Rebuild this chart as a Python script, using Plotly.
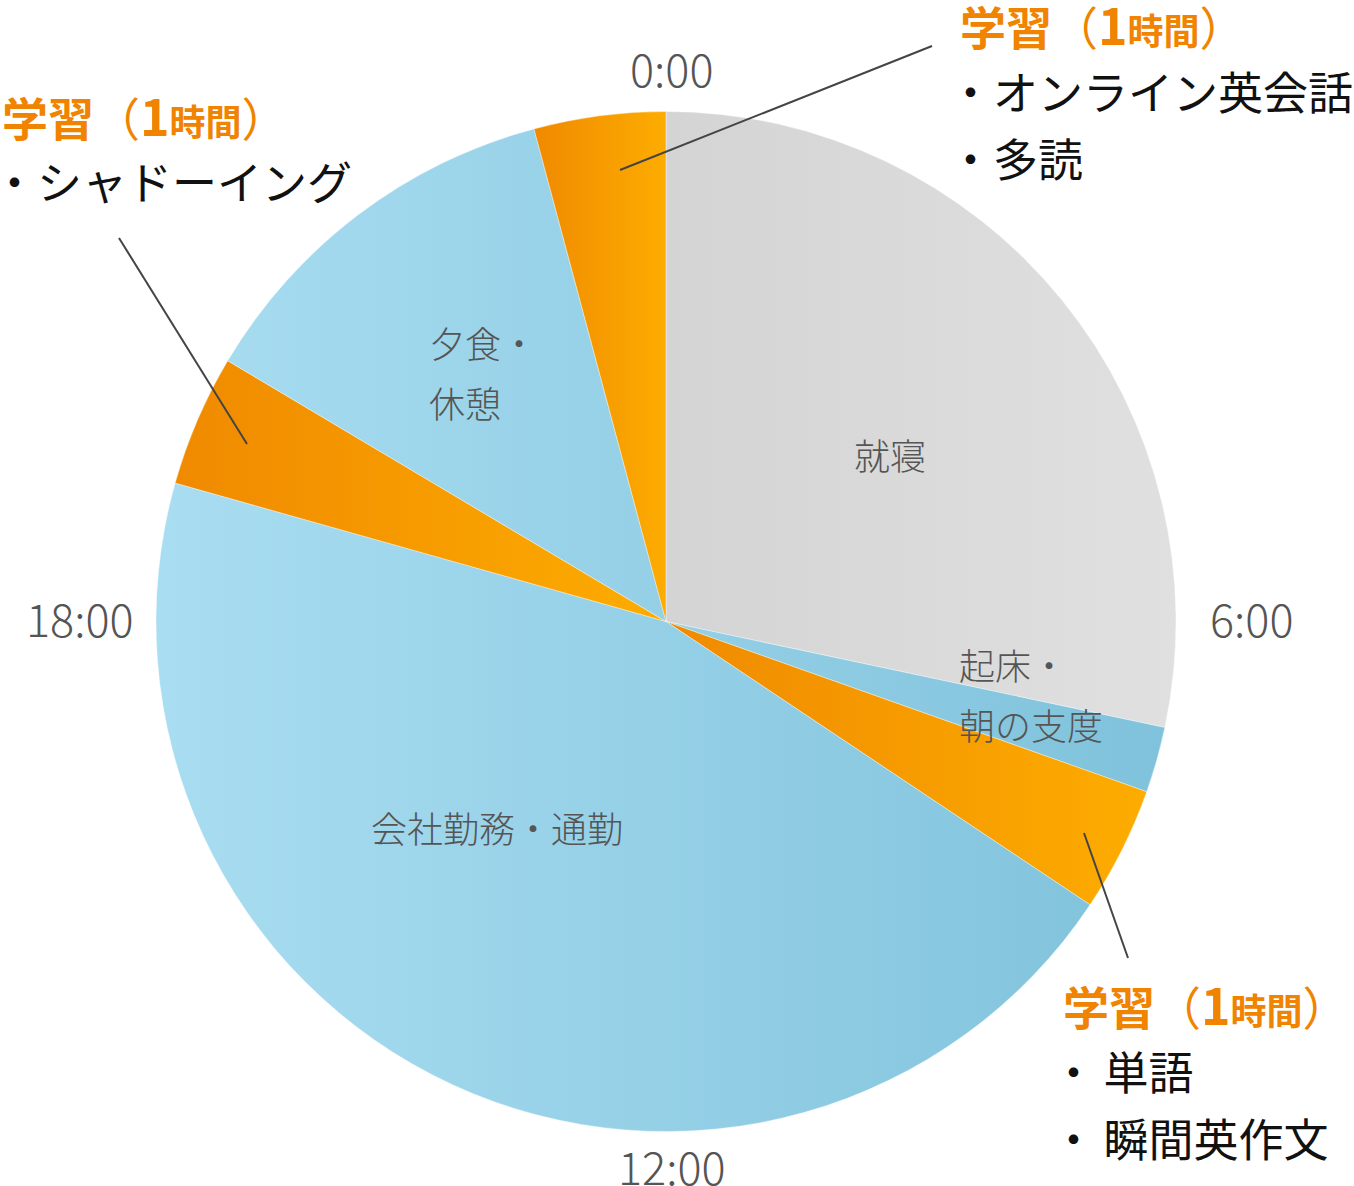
import json
import plotly.graph_objects as go

W, H = 1354, 1186
FONT = "Noto Sans CJK JP"

# one day, clockwise from 0:00
activities = ["就寝", "起床・朝の支度", "学習", "会社勤務・通勤", "学習", "夕食・休憩", "学習"]
hours = [6.8, 0.5, 0.95, 10.8, 1.0, 2.95, 1.0]
kinds = ["gray", "blue", "orange", "blue", "orange", "blue", "orange"]

clock_labels = ["0:00", "6:00", "12:00", "18:00"]

study_head = "<b>学習</b>（<b><span style='font-size:50px'>1</span><span style='font-size:36px'>時間</span></b>）"
study_items = [
    ["・オンライン英会話", "・多読"],
    ["・シャドーイング"],
    ["・\u2006単語", "・\u2006瞬間英作文"],
]

# gradient stops (left, right) and flat fallback
grad = {
    "gray": ["#d4d4d4", "#e0e0e0"],
    "blue": ["#a9ddf1", "#7fc2db"],
    "orange": ["#f08a00", "#fdac00"],
}
flat = {"gray": "#dadada", "blue": "#94cfe6", "orange": "#f79c00"}


def px(x, y):
    return x / W, 1 - y / H


cx, cy, r = 666, 621.5, 510

fig = go.Figure(go.Pie(
    labels=[f"{a}{i}" for i, a in enumerate(activities)],
    values=hours,
    sort=False,
    direction="clockwise",
    rotation=0,
    textinfo="none",
    hoverinfo="skip",
    showlegend=False,
    marker=dict(colors=[flat[k] for k in kinds],
                line=dict(color="rgba(255,255,255,0.6)", width=0.6)),
    domain=dict(x=[(cx - r) / W, (cx + r) / W],
                y=[(H - cy - r) / H, (H - cy + r) / H]),
))

annotations = []


def add_text(text, x, y, size, color, xanchor="left", weight=400):
    ax, ay = px(x, y)
    annotations.append(dict(
        text=text, x=ax, y=ay, xref="paper", yref="paper",
        xanchor=xanchor, yanchor="middle", showarrow=False,
        font=dict(family=FONT, size=size, color=color, weight=weight),
    ))


# clock ticks
clock_pos = [(671, 68), (1251, 617), (672, 1165), (80, 617)]
for lab, (x, y) in zip(clock_labels, clock_pos):
    add_text(lab, x, y, 45, "#555555", "center", 300)

# slice labels
GRAY_TXT = "#555555"
add_text("就寝", 890, 454, 36, GRAY_TXT, "center", 300)
add_text("起床・", 957, 664, 36, GRAY_TXT, weight=300)
add_text("朝の支度", 957, 724, 36, GRAY_TXT, weight=300)
add_text("会社勤務・通勤", 497, 827, 36, GRAY_TXT, "center", 300)
add_text("夕食・", 427, 342, 36, GRAY_TXT, weight=300)
add_text("休憩", 427, 402, 36, GRAY_TXT, weight=300)

# study callouts (head x, item x, head y)
callout_pos = [(958, 946, 23), (0, -10, 114), (1061, 1049, 1003)]
for (hx, ix, y), items in zip(callout_pos, study_items):
    add_text(study_head, hx, y, 46, "#f08300")
    for j, it in enumerate(items):
        add_text(it, ix, y + 67 * (j + 1), 45, "#111111")

leaders = [((620, 170), (932, 46)), ((119, 238), (247, 444)), ((1084, 833), (1128, 958))]
shapes = []
for (x0, y0), (x1, y1) in leaders:
    a0, b0 = px(x0, y0)
    a1, b1 = px(x1, y1)
    shapes.append(dict(type="line", xref="paper", yref="paper",
                       x0=a0, y0=b0, x1=a1, y1=b1,
                       line=dict(color="#444444", width=2)))

fig.update_layout(
    width=W, height=H,
    margin=dict(l=0, r=0, t=0, b=0),
    paper_bgcolor="white",
    plot_bgcolor="white",
    annotations=annotations,
    shapes=shapes,
    font=dict(family=FONT),
)

# horizontal gradients on the slices (blue shares one gradient across the pie)
post = """
document.body.style.margin = '0';
var gd = document.getElementById('{plot_id}');
var KINDS = %s;
var GRAD = %s;
function paintSlices() {
  var svg = gd.querySelector('svg.main-svg');
  if (!svg) return;
  var ns = 'http://www.w3.org/2000/svg';
  var defs = svg.querySelector('defs');
  var paths = gd.querySelectorAll('g.slice path.surface');
  if (!paths.length) return;
  var minx = Infinity, maxx = -Infinity;
  paths.forEach(function(p) {
    var b = p.getBBox();
    minx = Math.min(minx, b.x); maxx = Math.max(maxx, b.x + b.width);
  });
  paths.forEach(function(p, i) {
    var k = KINDS[i];
    var id = 'slicegrad' + i;
    var old = document.getElementById(id);
    if (old) old.remove();
    var g = document.createElementNS(ns, 'linearGradient');
    g.setAttribute('id', id);
    if (k === 'blue') {
      g.setAttribute('gradientUnits', 'userSpaceOnUse');
      g.setAttribute('x1', minx); g.setAttribute('x2', maxx);
      g.setAttribute('y1', 0); g.setAttribute('y2', 0);
    } else {
      g.setAttribute('x1', '0'); g.setAttribute('x2', '1');
      g.setAttribute('y1', '0'); g.setAttribute('y2', '0');
    }
    [0, 1].forEach(function(j) {
      var s = document.createElementNS(ns, 'stop');
      s.setAttribute('offset', j);
      s.setAttribute('stop-color', GRAD[k][j]);
      g.appendChild(s);
    });
    defs.appendChild(g);
    p.style.fill = 'url(#' + id + ')';
  });
}
paintSlices();
gd.on('plotly_afterplot', paintSlices);
""" % (json.dumps(kinds), json.dumps(grad))

fig.write_html("out.html", post_script=post, config={"displayModeBar": False})
